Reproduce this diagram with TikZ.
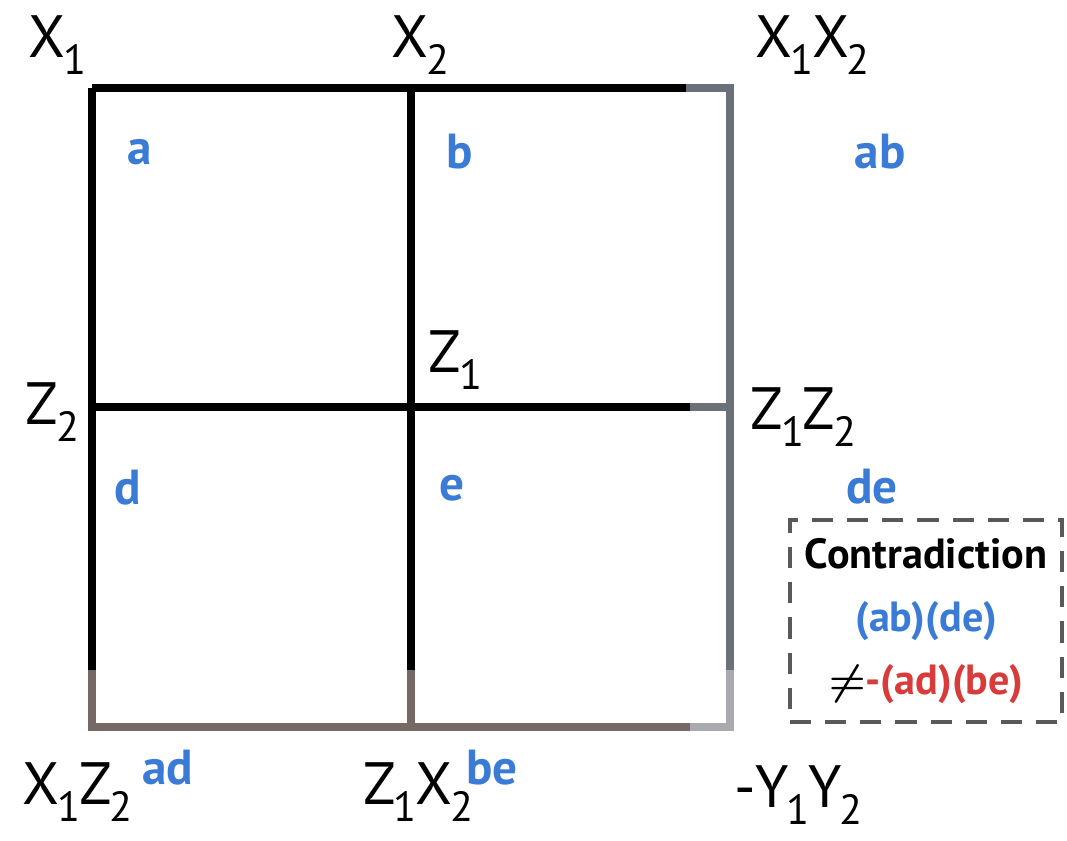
\documentclass[tikz,border=0pt]{standalone}
\usepackage{fontspec}
\setmainfont{PT Sans}
\usetikzlibrary{positioning}
\definecolor{labelblue}{HTML}{3A7BD5}
\definecolor{labelred}{HTML}{D93A3A}
\definecolor{edgegray}{HTML}{6B7079}
\definecolor{edgebrown}{HTML}{756865}
\definecolor{edgelight}{HTML}{AAA9AE}
\newcommand{\lowsub}[1]{\kern-0.6pt\raisebox{-0.55ex}{\fontsize{12}{14}\selectfont #1}\kern-0.3pt}
\tikzset{
  cutline/.style={line width=2.4pt},
  oplabel/.style={font=\fontsize{17}{19}\selectfont, inner sep=0pt},
  cell/.style={font=\fontsize{14}{16}\selectfont\bfseries, text=labelblue, inner sep=0pt},
  notebox/.style={draw=black!65, dash pattern=on 6pt off 4pt, line width=1.3pt,
    align=center, font=\fontsize{12}{18}\selectfont\bfseries,
    minimum width=2.72cm, minimum height=2.02cm, inner sep=2pt}
}
\begin{document}
\begin{tikzpicture}
  \useasboundingbox (0,0) rectangle (10.67,-8.41);
  % grid corners
  \coordinate (tl) at (0.92,-0.88);
  \coordinate (tm) at (4.11,-0.88);
  \coordinate (tc) at (6.90,-0.88);
  \coordinate (tr) at (7.30,-0.88);
  \coordinate (ml) at (0.92,-4.07);
  \coordinate (mm) at (4.11,-4.07);
  \coordinate (mc) at (6.90,-4.07);
  \coordinate (mr) at (7.30,-4.07);
  \coordinate (ll) at (0.92,-6.70);
  \coordinate (lm) at (4.11,-6.70);
  \coordinate (lr) at (7.30,-6.70);
  \coordinate (bl) at (0.92,-7.27);
  \coordinate (bm) at (4.11,-7.27);
  \coordinate (bc) at (6.90,-7.27);
  \coordinate (br) at (7.30,-7.27);
  % black part
  \draw[cutline] (tl) -- (tc);
  \draw[cutline] (ml) -- (mc);
  \draw[cutline] (tl) -- (ll);
  \draw[cutline] (tm) -- (lm);
  % faded part
  \draw[cutline,edgegray,line cap=rect] (tc) -- (tr) -- (mr) -- (lr);
  \draw[cutline,edgegray] (mc) -- (mr);
  \draw[cutline,edgebrown] (ll) -- (bl) -- (bc);
  \draw[cutline,edgebrown] (lm) -- (bm);
  \draw[cutline,edgelight] (bc) -- (br) -- (lr);

  % operators
  \node[oplabel] (x1) at (0.57,-0.45) {X\lowsub{1}};
  \node[oplabel] (x2) at (4.20,-0.45) {X\lowsub{2}};
  \node[oplabel] (x1x2) at (8.12,-0.45) {X\lowsub{1}X\lowsub{2}};
  \node[oplabel] (z1) at (4.55,-3.60) {Z\lowsub{1}};
  \node[oplabel] (z2) at (0.52,-4.12) {Z\lowsub{2}};
  \node[oplabel] (z1z2) at (8.03,-4.17) {Z\lowsub{1}Z\lowsub{2}};
  \node[oplabel] (x1z2) at (0.77,-7.92) {X\lowsub{1}Z\lowsub{2}};
  \node[oplabel] (z1x2) at (4.18,-7.92) {Z\lowsub{1}X\lowsub{2}};
  \node[oplabel] (y1y2) at (7.98,-7.95) {-Y\lowsub{1}Y\lowsub{2}};

  % measured values
  \node[cell] (a) at (1.40,-1.52) {a};
  \node[cell] (b) at (4.60,-1.52) {b};
  \node[cell] (ab) at (8.80,-1.52) {ab};
  \node[cell] (d) at (1.28,-4.88) {d};
  \node[cell] (e) at (4.52,-4.88) {e};
  \node[cell] (de) at (8.72,-4.87) {de};
  \node[cell] (ad) at (1.68,-7.68) {ad};
  \node[cell] (be) at (4.92,-7.68) {be};

  % contradiction note
  \node[notebox] (note) at (9.26,-6.21)
    {Contradiction\\
     \textcolor{labelblue}{(ab)(de)}\\
     {\boldmath$\neq$}\textcolor{labelred}{-(ad)(be)}};
\end{tikzpicture}
\end{document}
